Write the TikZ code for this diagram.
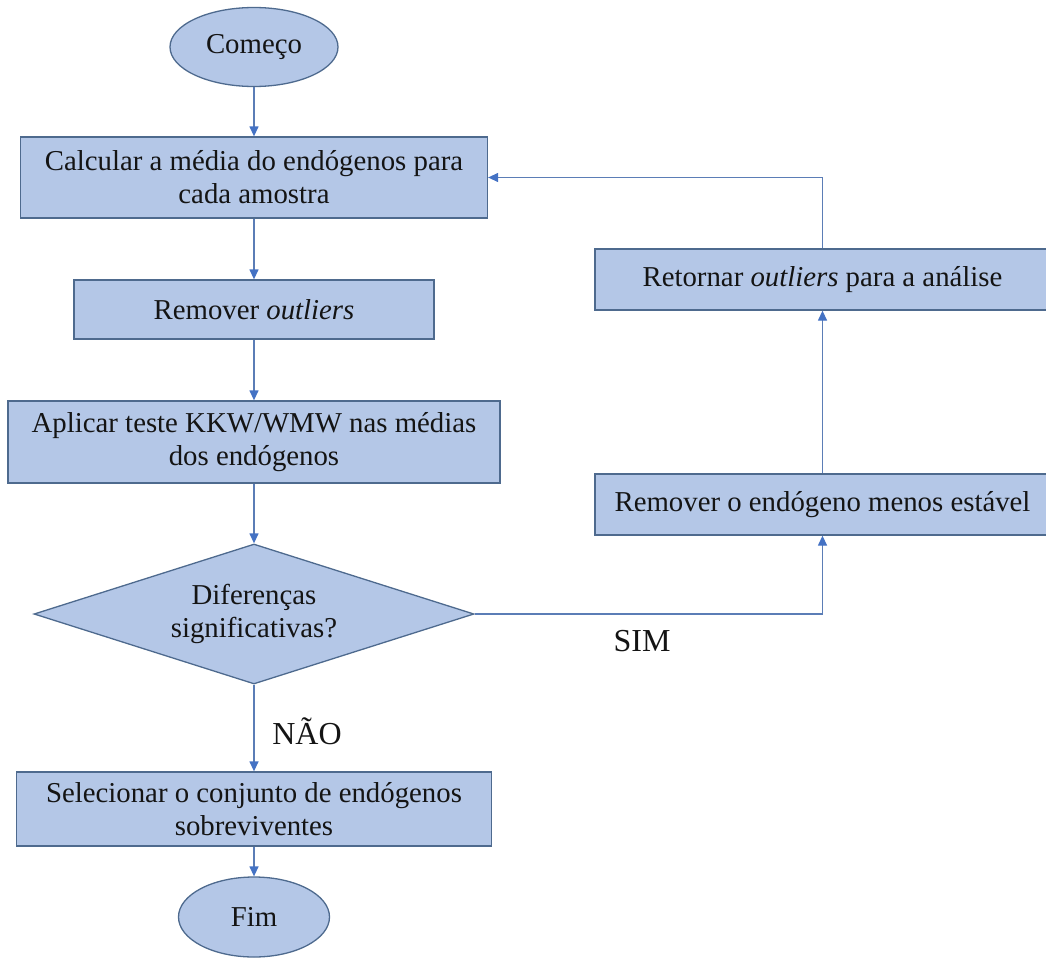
\documentclass[tikz,border=0pt]{standalone}
\usepackage{fontspec}
\setmainfont{Liberation Serif}
\usetikzlibrary{arrows.meta,shapes.geometric}
\definecolor{boxfill}{HTML}{B4C7E7}
\definecolor{boxedge}{HTML}{4E6A8E}
\definecolor{wire}{HTML}{5B7DB6}
\definecolor{tipblue}{HTML}{4472C4}
\definecolor{ink}{HTML}{141414}
\newcommand{\flowfont}{\fontsize{28.8}{33}\selectfont}
\newcommand{\lblfont}{\fontsize{32}{38}\selectfont}
\tikzset{
  flowarr/.style={-{Triangle[length=10pt,width=9pt,color=tipblue]},line width=1.3pt,color=wire},
  procbox/.style={draw=boxedge,fill=boxfill,line width=1.3pt,align=center,inner sep=0pt,font=\flowfont,text=ink},
  termnode/.style={procbox,ellipse},
  decnode/.style={procbox,diamond,aspect=3.1},
  branchlbl/.style={font=\lblfont,text=ink,inner sep=0pt}
}

\begin{document}
\begin{tikzpicture}[x=1pt,y=-1pt]
  \useasboundingbox (0,0) rectangle (1046,958);
  % main column
  \node[termnode,minimum width=168pt,minimum height=79pt] (start) at (254,47) {Começo};
  \node[procbox,minimum width=467pt,minimum height=81pt] (calc) at (254,177.5)
    {Calcular a média do endógenos para\\cada amostra};
  \node[procbox,minimum width=360pt,minimum height=59pt] (outl) at (254,309.5) {Remover \textit{outliers}};
  \node[procbox,minimum width=492pt,minimum height=82pt] (kkw) at (254,442)
    {Aplicar teste KKW/WMW nas médias\\dos endógenos};
  \node[decnode,minimum width=440pt,minimum height=140pt] (dec) at (254,614)
    {Diferenças\\significativas?};
  \node[procbox,minimum width=475pt,minimum height=74pt] (sel) at (254,809)
    {Selecionar o conjunto de endógenos\\sobreviventes};
  \node[termnode,minimum width=151pt,minimum height=80pt] (fim) at (254,917) {Fim};
  % loop column
  \node[procbox,minimum width=455pt,minimum height=61pt] (rem) at (822.5,504.5)
    {Remover o endógeno menos estável};
  \node[procbox,minimum width=455pt,minimum height=61pt] (ret) at (822.5,279.5)
    {Retornar \textit{outliers} para a análise};
  % connectors
  \draw[flowarr] (start) -- (calc);
  \draw[flowarr] (calc) -- (outl);
  \draw[flowarr] (outl) -- (kkw);
  \draw[flowarr] (kkw) -- (dec);
  \draw[flowarr] (dec) -- (sel);
  \draw[flowarr] (sel) -- (fim);
  \draw[flowarr] (dec.east) -| (rem.south);
  \draw[flowarr] (rem) -- (ret);
  \draw[flowarr] (ret.north) |- (calc.east);
  % branch labels
  \node[branchlbl] (sim) at (642,641) {SIM};
  \node[branchlbl] (nao) at (307,731) {NÃO};
\end{tikzpicture}
\end{document}
